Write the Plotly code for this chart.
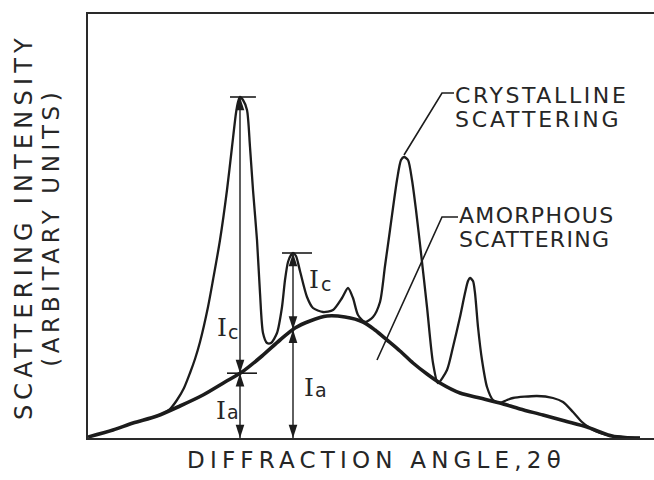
import numpy as np
import plotly.graph_objects as go

# ---------------- data (arbitrary units) ----------------
# amorphous halo
amor_x = [0, 25, 45, 69, 92, 115, 137, 154, 174, 192, 207, 222, 239, 257, 275, 287,
          299, 312, 325, 339, 352, 372, 392, 412, 432, 455, 477, 499, 512, 524, 537, 552]
amor_y = [1, 8, 15, 22, 32, 43, 56, 66, 82, 98, 110, 117, 122, 121, 116, 108,
          98, 87, 75, 64, 55, 45, 40, 35, 29, 23, 17, 11, 6, 2, 0.5, 0]

# total (crystalline + amorphous) scattering
cryst_x = [69, 76, 82, 89, 96, 102, 107, 112, 120, 125, 132, 139, 144, 148, 150, 152, 155,
           159, 162, 165, 169, 172, 175, 179, 183, 189, 194, 197, 200, 203, 205, 208, 212,
           219, 225, 235, 245, 254, 260, 265, 270, 277, 285, 292, 297, 302, 309, 313, 316,
           320, 324, 328, 333, 339, 345, 350, 359, 365, 372, 377, 380, 382, 385, 387, 390,
           394, 399, 405, 412, 419, 425, 449, 465, 475, 485, 494, 502, 512, 524, 537, 552]
cryst_y = [22, 25, 29, 38, 50, 65, 79, 96, 131, 158, 198, 248, 291, 325, 336, 341, 338,
           328, 291, 248, 198, 145, 105, 95, 95, 105, 131, 158, 176, 183, 185, 182, 167,
           141, 130, 126, 128, 140, 150, 140, 123, 116, 121, 136, 172, 208, 258, 278, 281,
           278, 258, 228, 185, 131, 75, 55, 68, 91, 121, 145, 157, 160, 157, 145, 111,
           78, 51, 38, 35, 38, 40, 42, 40, 36, 26, 16, 10, 5, 2, 0.5, 0]

# positions of the two measured reflections
dim_x = [152, 205]

X_LABEL = "DIFFRACTION ANGLE,2θ"
Y_LABEL_1 = "SCATTERING INTENSITY"
Y_LABEL_2 = "(ARBITARY UNITS)"

# ---------------- derived ----------------
dim_top = [float(np.interp(d, cryst_x, cryst_y)) for d in dim_x]
dim_mid = [float(np.interp(d, amor_x, amor_y)) for d in dim_x]

INK = "#1c1c1c"
TXT = "#262626"
FONT = "DejaVu Sans"
SERIF = "DejaVu Serif"

fig = go.Figure()

# vertical dimension lines
for d, t in zip(dim_x, dim_top):
    fig.add_trace(go.Scatter(x=[d, d], y=[0, t], mode="lines",
                             line=dict(color=INK, width=1.4), hoverinfo="skip",
                             showlegend=False))

fig.add_trace(go.Scatter(x=cryst_x, y=cryst_y, mode="lines",
                         line=dict(color=INK, width=2.3, shape="spline", smoothing=0.7),
                         showlegend=False, name="crystalline"))
fig.add_trace(go.Scatter(x=amor_x, y=amor_y, mode="lines",
                         line=dict(color=INK, width=3.6, shape="spline", smoothing=0.8),
                         showlegend=False, name="amorphous"))

# arrow heads of the dimension lines
ax_, ay_, ang = [], [], []
for d, t, m in zip(dim_x, dim_top, dim_mid):
    ax_ += [d, d, d, d]
    ay_ += [t, m, m, 0]
    ang += [0, 180, 0, 180]
fig.add_trace(go.Scatter(x=ax_, y=ay_, mode="markers", cliponaxis=False,
                         marker=dict(symbol="arrow", angle=ang, size=14, color=INK,
                                     line=dict(width=0)),
                         hoverinfo="skip", showlegend=False))

shapes = []
# caps at peak tops
cap_ext = [(-10, 16), (-11, 19)]
for d, t, (a, b) in zip(dim_x, dim_top, cap_ext):
    shapes.append(dict(type="line", xref="x", yref="y", x0=d + a, x1=d + b, y0=t, y1=t,
                       line=dict(color=INK, width=1.6)))
# tick at first intersection
shapes.append(dict(type="line", xref="x", yref="y", x0=dim_x[0] - 13, x1=dim_x[0] + 17,
                   y0=dim_mid[0], y1=dim_mid[0], line=dict(color=INK, width=1.6)))
# leader lines
shapes.append(dict(type="path", xref="x", yref="y",
                   path="M 366,345 L 354,345 L 316,283", line=dict(color=INK, width=1.6)))
shapes.append(dict(type="path", xref="x", yref="y",
                   path="M 370,221 L 354,221 L 289,78", line=dict(color=INK, width=1.6)))

ann = []
def lab(text, x, y, size=22, xanchor="left", font=FONT):
    ann.append(dict(text=text, x=x, y=y, xref="x", yref="y", showarrow=False,
                    xanchor=xanchor, yanchor="middle", borderpad=0,
                    align=xanchor if xanchor != "center" else "center",
                    font=dict(family=font, size=size, color=TXT)))

lab("CRYSTALLINE", 366, 343)
lab("SCATTERING", 366, 319)
lab("AMORPHOUS", 370, 223)
lab("SCATTERING", 370, 199)

# I_c / I_a labels (capital I with a small lowered letter)
lab("I", 134, 111, size=25, xanchor="center", font=SERIF)
lab("c", 145, 106, size=19, xanchor="center")
lab("I", 133, 28, size=25, xanchor="center", font=SERIF)
lab("a", 144.5, 26, size=19, xanchor="center")
lab("I", 226, 159, size=25, xanchor="center", font=SERIF)
lab("c", 237.5, 154, size=19, xanchor="center")
lab("I", 221, 51, size=25, xanchor="center", font=SERIF)
lab("a", 233, 48, size=19, xanchor="center")

ann.append(dict(text=X_LABEL, x=0.5106, y=-0.052, xref="paper", yref="paper",
                showarrow=False, xanchor="center", yanchor="middle",
                font=dict(family=FONT, size=23, color=TXT)))
ann.append(dict(text=Y_LABEL_1, x=-0.113, y=0.4976, xref="paper", yref="paper",
                showarrow=False, xanchor="center", yanchor="middle", textangle=-90,
                font=dict(family=FONT, size=24, color=TXT)))
ann.append(dict(text=Y_LABEL_2, x=-0.0654, y=0.4976, xref="paper", yref="paper",
                showarrow=False, xanchor="center", yanchor="middle", textangle=-90,
                font=dict(family=FONT, size=23, color=TXT)))

fig.update_layout(
    width=654, height=480,
    margin=dict(l=88, r=0, t=14, b=42),
    paper_bgcolor="white", plot_bgcolor="white",
    shapes=shapes, annotations=ann,
    xaxis=dict(range=[0, 566], showgrid=False, zeroline=False, showticklabels=False,
               ticks="", showline=True, mirror=True, linecolor="#2a2a2a", linewidth=2),
    yaxis=dict(range=[0, 424], showgrid=False, zeroline=False, showticklabels=False,
               ticks="", showline=True, mirror=False, linecolor="#2a2a2a", linewidth=2),
)

post = """
document.body.style.margin = '0';
var gd = document.getElementById('{plot_id}');
var sp = [['DIFFRACTION', ['5.2px']], ['SCATTERING INTENSITY', ['5.2px']], ['(ARBITARY', ['4.6px']],
          ['CRYSTALLINE', ['2.6px']], ['AMORPHOUS', ['1.3px']], ['SCATTERING', ['2.8px', '1.3px']]];
var seen = {};
gd.querySelectorAll('text.annotation-text').forEach(function(t){
  var s = t.textContent;
  for (var i = 0; i < sp.length; i++) {
    if (s.indexOf(sp[i][0]) === 0) {
      var k = sp[i][0]; var n = seen[k] || 0; seen[k] = n + 1;
      var arr = sp[i][1];
      t.style.letterSpacing = arr[Math.min(n, arr.length - 1)];
      break;
    }
  }
});
"""

fig.write_html("out.html", post_script=post, config={"displayModeBar": False})
